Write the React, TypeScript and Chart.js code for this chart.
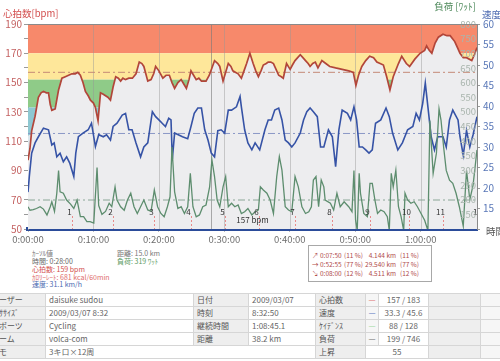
import React, { useEffect, useRef } from 'react';
import { Chart, registerables } from 'chart.js';

Chart.register(...registerables);

// ---------- data ----------
const X_MAX = 68.6; // minutes shown on the time axis
const timeStep = 10;

const hrT = [0, 0.3, 0.56, 1.08, 1.59, 2.0, 2.36, 2.8, 3.13, 3.4, 3.64, 4.15, 4.67, 5.18, 5.7, 6.2, 6.7, 7.23, 7.6, 8.0, 8.4, 8.77, 9.2, 9.54, 10.0, 10.3, 10.7, 11.08, 11.5, 11.85, 12.2, 12.6, 13.0, 13.4, 13.8, 14.15, 14.5, 14.9, 15.4, 15.95, 16.5, 17.0, 17.4, 17.7, 18.0, 18.3, 18.8, 19.2, 19.5, 20.0, 20.6, 21.1, 21.6, 22.0, 22.4, 22.9, 23.4, 23.8, 24.2, 24.6, 24.9, 25.3, 25.7, 26.1, 26.5, 27.2, 27.7, 28.1, 28.5, 29.0, 29.3, 29.8, 30.2, 30.6, 31.0, 31.3, 32.1, 32.6, 33.0, 33.4, 33.9, 34.4, 34.8, 35.2, 35.6, 35.95, 36.4, 36.7, 37.1, 37.5, 37.9, 38.3, 38.7, 39.0, 39.5, 40.05, 40.4, 40.8, 41.2, 41.6, 42.0, 42.4, 42.8, 43.1, 43.5, 43.9, 44.3, 44.9, 45.5, 46.1, 47.0, 48.0, 49.0, 49.7, 50.1, 50.5, 51.0, 51.6, 52.2, 52.8, 53.3, 53.8, 54.3, 54.8, 55.3, 55.8, 56.6, 57.1, 57.8, 58.3, 59.1, 59.9, 60.6, 60.9, 61.3, 61.7, 62.2, 62.7, 63.4, 64.0, 64.5, 65.2, 65.6, 66.0, 66.5, 67.0, 67.8, 68.2, 68.6];
const hrV = [97, 105, 117, 127, 140, 143, 144, 143, 143, 135, 131, 132, 145, 153, 154, 155, 156, 156, 157, 155, 150, 144, 141, 138, 136, 133, 124, 143, 142, 141, 140, 138, 147, 154, 153, 151, 153, 152, 153, 153, 156, 164, 163, 161, 156, 151, 152, 156, 161, 158, 153, 155, 155, 150, 146, 150, 152, 149, 146, 152, 158, 155, 152, 153, 151, 151, 155, 160, 165, 163, 161, 151, 157, 163, 161, 158, 156, 153, 158, 163, 170, 163, 158, 154, 158, 162, 163, 164, 164, 163, 159, 155, 154, 153, 163, 159, 162, 165, 167, 169, 167, 165, 163, 161, 163, 164, 160, 165, 163, 161, 160, 159, 158, 157, 148, 155, 161, 165, 168, 167, 164, 163, 162, 154, 145, 154, 163, 168, 163, 161, 166, 170, 172, 175, 172, 170, 177, 181, 183, 182, 182, 178, 174, 170, 167, 167, 165, 169, 174];

const spT = [0, 0.2, 0.56, 1.08, 1.59, 2.36, 3.13, 3.64, 4.0, 4.4, 4.9, 5.4, 5.9, 6.4, 7.0, 7.3, 7.7, 8.4, 9.2, 9.7, 10.3, 10.8, 11.5, 12.0, 12.6, 13.0, 13.6, 14.4, 14.9, 15.4, 15.9, 16.5, 17.2, 17.7, 18.3, 19.0, 19.5, 20.0, 20.5, 21.0, 21.5, 21.85, 22.05, 22.4, 23.6, 24.4, 24.9, 25.4, 25.95, 26.5, 27.0, 27.5, 28.0, 28.5, 29.0, 29.5, 30.05, 30.6, 31.1, 31.85, 32.4, 32.6, 33.1, 33.6, 34.2, 34.7, 35.4, 36.2, 36.7, 37.2, 37.7, 38.3, 38.8, 39.3, 39.8, 40.3, 40.8, 41.6, 42.1, 42.6, 43.1, 43.6, 44.2, 44.7, 45.2, 45.9, 46.5, 47.0, 47.5, 48.0, 48.8, 49.3, 49.8, 50.2, 50.6, 51.1, 51.6, 52.1, 52.6, 53.1, 53.9, 54.7, 55.2, 55.7, 56.5, 57.2, 58.0, 58.8, 59.3, 59.8, 60.3, 60.7, 61.1, 61.6, 62.1, 62.6, 63.4, 63.9, 64.4, 64.9, 65.7, 66.0, 66.5, 67.0, 67.5, 68.0, 68.6];
const spV = [19, 22.8, 28.5, 31, 32.5, 34.6, 34.2, 30.5, 31, 27.6, 28.5, 26.4, 27.6, 26, 22.8, 28.5, 32.5, 33.4, 34.2, 35.8, 30.1, 33, 32.5, 33, 31.7, 35, 35.8, 37.8, 38.2, 34.2, 34.2, 31, 27.6, 30, 31, 38.6, 37.4, 36.6, 35.8, 35, 37, 36.6, 27, 33.4, 32.5, 32, 35, 38.2, 39.5, 39.5, 34.2, 31.7, 28.5, 27.6, 34, 34.2, 33.4, 39, 39, 39.8, 42.3, 39.8, 34.2, 31, 29.3, 31, 29.3, 34.2, 36.6, 36.6, 39, 39.5, 36.6, 31.7, 31, 30, 31, 33.4, 36.6, 38.6, 39.5, 38.6, 37.4, 30, 30, 34.2, 32.5, 25.2, 34.2, 39, 38.2, 36.6, 39.8, 36.6, 30, 30, 29.3, 28.5, 29.3, 35.8, 36.6, 39.5, 37.4, 33.4, 29.3, 31, 34.2, 35, 38.2, 36.6, 40.6, 45.6, 39.8, 32.5, 29.3, 32.5, 32.5, 30, 36.6, 39, 36.6, 32.5, 28, 34, 30, 33, 37.4];

const pwT = [0, 0.3, 0.8, 1.3, 1.85, 2.36, 2.9, 3.4, 3.64, 4.05, 4.4, 4.67, 4.9, 5.4, 5.9, 6.5, 7.0, 7.5, 8.0, 8.5, 9.0, 9.5, 10.05, 10.55, 10.8, 11.3, 11.85, 12.4, 12.8, 13.3, 13.6, 14.15, 14.7, 15.2, 15.7, 16.2, 16.7, 17.2, 17.7, 18.3, 18.8, 19.3, 19.8, 20.3, 20.8, 21.3, 21.7, 22.0, 22.4, 22.9, 23.4, 23.9, 24.4, 24.8, 25.2, 25.7, 26.2, 26.7, 27.2, 27.75, 28.1, 28.5, 28.9, 29.3, 29.8, 30.2, 30.6, 31.1, 31.6, 32.1, 32.6, 33.1, 33.6, 34.2, 34.7, 35.2, 35.5, 35.95, 36.5, 37.0, 37.5, 38.0, 38.4, 38.8, 39.3, 39.8, 40.3, 40.8, 41.3, 41.85, 42.4, 42.9, 43.3, 43.6, 44.0, 44.4, 44.8, 45.2, 45.4, 46.2, 46.7, 47.2, 47.7, 48.3, 49.0, 49.5, 49.8, 50.05, 50.3, 50.6, 50.8, 51.3, 51.85, 52.25, 52.6, 53.0, 53.4, 53.9, 54.4, 54.9, 55.2, 55.5, 55.8, 56.2, 56.6, 57.0, 57.4, 57.6, 58.0, 58.5, 59.0, 59.5, 60.05, 60.6, 61.1, 61.4, 61.9, 62.4, 62.8, 63.1, 63.5, 63.9, 64.4, 64.9, 65.4, 65.9, 66.5, 67.0, 67.5, 68.0, 68.6];
const pwV = [176, 164, 166, 170, 176, 168, 148, 176, 193, 160, 222, 300, 227, 222, 199, 185, 170, 199, 142, 142, 125, 125, 120, 310, 180, 150, 160, 188, 176, 244, 199, 176, 164, 199, 222, 176, 153, 176, 199, 165, 160, 233, 176, 153, 142, 176, 210, 380, 227, 170, 176, 153, 176, 290, 176, 142, 148, 176, 182, 244, 336, 279, 199, 176, 244, 279, 176, 188, 176, 182, 153, 159, 170, 148, 159, 165, 244, 233, 222, 199, 153, 279, 347, 301, 176, 165, 159, 279, 244, 176, 153, 159, 176, 267, 279, 176, 267, 244, 199, 188, 165, 222, 176, 193, 176, 159, 300, 130, 95, 290, 222, 153, 142, 256, 256, 199, 153, 165, 159, 142, 95, 290, 244, 301, 176, 142, 95, 222, 199, 188, 193, 176, 153, 130, 95, 470, 290, 359, 510, 472, 380, 300, 267, 256, 222, 176, 110, 300, 200, 250, 370];

const lapT = [6.7, 13.0, 19.3, 24.9, 30.1, 35.3, 40.8, 46.4, 52.3, 58.2, 63.4, 69.1];
const lapLabels = ['1', '2', '3', '4', '5', '6', '7', '8', '9', '10', '11', '12'];

const zoneBounds = [190, 170, 152, 133, 114, 50];
const zoneColors = ['#f7896b', '#fee79a', '#8fcb88', '#8ec8d2', '#dde8ee'];

const avgHr = 157;
const avgSpeed = 33.3;
const avgPower = 199;
const cursorT = 28;
const powerTicks = [800, 750, 700, 650, 600, 550, 500, 450, 400, 350, 300, 250, 200, 150];

const FONT = "'Noto Sans CJK JP', 'Noto Sans', sans-serif";
const FILL_INDEX = 6;

const fmtTime = (m: number) => {
  const h = Math.floor(m / 60);
  const mm = Math.round(m % 60);
  return `${h}:${String(mm).padStart(2, '0')}:00`;
};

const pts = (t: number[], v: number[]) => t.map((x, i) => ({ x, y: v[i] }));

const overlayPlugin = {
  id: 'overlay',
  beforeDatasetsDraw(chart: any) {
    const { ctx, chartArea: a, scales } = chart;
    const y = scales.y;
    ctx.save();
    for (let i = 0; i < zoneColors.length; i++) {
      const top = y.getPixelForValue(zoneBounds[i]);
      const bot = y.getPixelForValue(zoneBounds[i + 1]);
      ctx.fillStyle = zoneColors[i];
      ctx.fillRect(a.left, top, a.right - a.left, bot - top);
    }
    ctx.restore();
  },
  afterDatasetDraw(chart: any, args: any) {
    if (args.index !== FILL_INDEX) return;
    const { ctx, chartArea: a, scales } = chart;
    const xs = scales.x;
    ctx.save();
    ctx.strokeStyle = 'rgba(150,150,150,0.45)';
    ctx.lineWidth = 1;
    xs.ticks.forEach((t: any) => {
      if (t.value <= 0) return;
      const px = Math.round(xs.getPixelForValue(t.value)) + 0.5;
      ctx.beginPath();
      ctx.moveTo(px, a.top);
      ctx.lineTo(px, a.bottom);
      ctx.stroke();
    });
    const cx = Math.round(xs.getPixelForValue(cursorT)) + 0.5;
    ctx.strokeStyle = 'rgba(120,120,120,0.6)';
    ctx.beginPath();
    ctx.moveTo(cx, a.top);
    ctx.lineTo(cx, a.bottom);
    ctx.stroke();
    ctx.restore();
  },
  afterDatasetsDraw(chart: any) {
    const { ctx, chartArea: a, scales } = chart;
    const xs = scales.x;
    const pw = scales.pw;
    ctx.save();
    ctx.beginPath();
    ctx.rect(a.left, a.top, a.right - a.left, a.bottom - a.top);
    ctx.clip();
    ctx.font = `8px ${FONT}`;
    ctx.textAlign = 'center';
    ctx.textBaseline = 'middle';
    lapT.forEach((t, i) => {
      const px = Math.round(xs.getPixelForValue(t)) + 0.5;
      ctx.strokeStyle = '#e88a8a';
      ctx.lineWidth = 1;
      ctx.setLineDash([2, 2]);
      ctx.beginPath();
      ctx.moveTo(px, a.bottom - 13);
      ctx.lineTo(px, a.bottom);
      ctx.stroke();
      ctx.setLineDash([]);
      ctx.fillStyle = '#333';
      ctx.fillText(lapLabels[i], px - 3, a.bottom - 17);
    });
    ctx.fillStyle = '#333';
    ctx.font = `8px ${FONT}`;
    ctx.fillText(`${avgHr} bpm`, (a.left + a.right) / 2, a.bottom - 9);
    ctx.restore();

    ctx.save();
    ctx.font = `9.5px ${FONT}`;
    ctx.fillStyle = '#a9b5ad';
    ctx.textAlign = 'right';
    ctx.textBaseline = 'middle';
    powerTicks.forEach((v) => {
      ctx.fillText(String(v), a.right - 1, pw.getPixelForValue(v));
    });
    ctx.strokeStyle = '#8a8a8a';
    ctx.lineWidth = 1;
    ctx.beginPath();
    ctx.moveTo(a.left, a.top + 0.5);
    ctx.lineTo(a.right, a.top + 0.5);
    ctx.stroke();
    ctx.restore();
  },
  afterDraw(chart: any) {
    const { ctx, chartArea: a } = chart;
    ctx.save();
    ctx.textBaseline = 'middle';
    ctx.font = `9.5px ${FONT}`;
    ctx.fillStyle = '#d24c4c';
    ctx.textAlign = 'left';
    ctx.fillText('心拍数[bpm]', 3, 13);
    ctx.fillStyle = '#4f8a5c';
    ctx.textAlign = 'right';
    ctx.fillText('負荷 [ﾜｯﾄ]', a.right - 1, 6);
    ctx.fillStyle = '#4a68b0';
    ctx.textAlign = 'left';
    ctx.fillText('速度', a.right + 5, 14);
    ctx.fillStyle = '#555';
    ctx.fillText('時間', a.right + 9, a.bottom + 2);
    ctx.restore();
  },
};

function ChartCanvas() {
  const ref = useRef<HTMLCanvasElement | null>(null);
  useEffect(() => {
    if (!ref.current) return;
    Chart.defaults.font.family = FONT;
    const chart = new Chart(ref.current, {
      type: 'line',
      data: {
        datasets: [
          { label: 'power', data: pts(pwT, pwV), yAxisID: 'pw', borderColor: '#5d8d6e', borderWidth: 1.3, pointRadius: 0, tension: 0, fill: false },
          { label: 'speed', data: pts(spT, spV), yAxisID: 'sp', borderColor: '#3653a6', borderWidth: 1.6, pointRadius: 0, tension: 0, fill: false },
          { label: 'hr', data: pts(hrT, hrV), yAxisID: 'y', borderColor: '#b2463a', borderWidth: 1.7, pointRadius: 0, tension: 0, fill: false },
          { label: 'avgHr', data: [{ x: 0, y: avgHr }, { x: X_MAX, y: avgHr }], yAxisID: 'y', borderColor: '#c48a78', borderWidth: 1, borderDash: [7, 3, 2, 3], pointRadius: 0, fill: false },
          { label: 'avgSp', data: [{ x: 0, y: avgSpeed }, { x: X_MAX, y: avgSpeed }], yAxisID: 'sp', borderColor: '#8a98c6', borderWidth: 1, borderDash: [7, 3, 2, 3], pointRadius: 0, fill: false },
          { label: 'avgPw', data: [{ x: 0, y: avgPower }, { x: X_MAX, y: avgPower }], yAxisID: 'pw', borderColor: '#8aa696', borderWidth: 1, borderDash: [7, 3, 2, 3], pointRadius: 0, fill: false },
          { label: 'hrFill', data: pts(hrT, hrV), yAxisID: 'y', borderWidth: 0, borderColor: 'rgba(0,0,0,0)', backgroundColor: '#ededef', pointRadius: 0, tension: 0, fill: 'start' },
        ],
      },
      options: {
        responsive: false,
        devicePixelRatio: 1,
        animation: false,
        events: [],
        layout: { padding: { top: 24, left: 0, right: 0, bottom: 0 } },
        plugins: { legend: { display: false }, tooltip: { enabled: false }, title: { display: false } },
        scales: {
          x: {
            type: 'linear',
            min: 0,
            max: X_MAX,
            afterFit: (s: any) => { s.height = 16; },
            ticks: {
              stepSize: timeStep,
              includeBounds: false,
              autoSkip: false,
              maxRotation: 0,
              padding: 2,
              color: '#6e6e6e',
              font: { size: 9.5, family: FONT },
              callback: (v: any) => fmtTime(Number(v)),
            },
            grid: { drawOnChartArea: false, tickLength: 3, color: '#bbb' },
            border: { display: true, color: '#2b4c9a', width: 4 },
          },
          y: {
            position: 'left',
            min: 50,
            max: 190,
            afterFit: (s: any) => { s.width = 28; },
            ticks: {
              stepSize: 10,
              autoSkip: false,
              padding: 2,
              color: '#c46262',
              font: { size: 10, family: FONT },
              callback: (v: any) => (Number(v) % 20 === 10 ? String(v) : ''),
            },
            grid: { drawOnChartArea: false, tickLength: 4, color: '#9a9a9a' },
            border: { display: true, color: '#8a8a8a' },
          },
          pw: {
            position: 'right',
            display: false,
            min: 100,
            max: 800,
          },
          sp: {
            position: 'right',
            min: 10,
            max: 60,
            afterFit: (s: any) => { s.width = 23; },
            ticks: {
              stepSize: 5,
              autoSkip: false,
              padding: 3,
              color: '#5a78b8',
              font: { size: 10, family: FONT },
              callback: (v: any) => (Number(v) >= 15 ? String(v) : ''),
            },
            grid: { drawOnChartArea: false, tickLength: 3, color: '#9a9a9a' },
            border: { display: true, color: '#8a8a8a' },
          },
        },
      } as any,
      plugins: [overlayPlugin],
    } as any);
    return () => chart.destroy();
  }, []);
  return <canvas ref={ref} width={500} height={245} style={{ position: 'absolute', left: 0, top: 0, width: 500, height: 245 }} />;
}

const lapRows = [
  ['↗', '0:07:50', '(11 %)', '4.144 km', '(11 %)'],
  ['→', '0:52:55', '(77 %)', '29.540 km', '(77 %)'],
  ['↘', '0:08:00', '(12 %)', '4.511 km', '(12 %)'],
];

const infoLines = [
  { left: 32, top: 249, text: 'ｶｰｿﾙ値', color: '#777' },
  { left: 32, top: 257, text: '時間: 0:28:00', color: '#666' },
  { left: 32, top: 265, text: '心拍数: 159 bpm', color: '#d24c4c' },
  { left: 32, top: 273, text: 'ｶﾛﾘｰﾚｰﾄ: 681 kcal/60min', color: '#e06a6a' },
  { left: 32, top: 280, text: '速度: 31.1 km/h', color: '#4a68b0' },
  { left: 117, top: 249, text: '距離: 15.0 km', color: '#777' },
  { left: 117, top: 257, text: '負荷: 319 ﾜｯﾄ', color: '#5a9a62' },
];

const tableRows = [
  ['ユーザー', 'daisuke sudou', '日付', '2009/03/07', '心拍数', '#e06a6a', '157 / 183'],
  ['ｴｸｻｻｲｽﾞ', '2009/03/07 8:32', '時刻', '8:32:50', '速度', '#5470c0', '33.3 / 45.6'],
  ['スポーツ', 'Cycling', '継続時間', '1:08:45.1', 'ｹｲﾃﾞﾝｽ', '#9ad69a', '88 / 128'],
  ['チーム', 'volca-com', '距離', '38.2 km', '負荷', '#666', '199 / 746'],
];
const memoRow = ['メモ', '3キロ×12周', '上昇', '55'];

const colWidths = [58, 148, 55, 67, 50, 13, 50, 52, 40];

export default function App() {
  const td: React.CSSProperties = {
    border: '1px solid #d6d6d6',
    padding: '0 3px',
    whiteSpace: 'nowrap',
    overflow: 'hidden',
    lineHeight: '12px',
    height: 12,
    color: '#666',
  };
  const lab: React.CSSProperties = { ...td, background: '#eeeeee', color: '#555' };
  return (
    <div style={{ position: 'absolute', left: 0, top: 0, width: 500, height: 361, overflow: 'hidden', background: '#fff', fontFamily: FONT }}>
      <ChartCanvas />
      {infoLines.map((l, i) => (
        <div key={i} style={{ position: 'absolute', left: l.left, top: l.top, fontSize: 7, lineHeight: '8px', color: l.color, whiteSpace: 'nowrap' }}>{l.text}</div>
      ))}
      <div style={{ position: 'absolute', left: 308, top: 245, width: 122, height: 35, border: '1px solid #a8a8a8', boxSizing: 'content-box' }}>
        {lapRows.map((r, i) => (
          <div key={i} style={{ position: 'absolute', top: 5 + i * 9, left: 0, height: 9, fontSize: 6.5, lineHeight: '9px', color: '#b04a4a', whiteSpace: 'nowrap', width: 122 }}>
            <span style={{ position: 'absolute', left: 3 }}>{r[0]} {r[1]}</span>
            <span style={{ position: 'absolute', left: 35 }}>{r[2]}</span>
            <span style={{ position: 'absolute', right: 35, textAlign: 'right' }}>{r[3]}</span>
            <span style={{ position: 'absolute', left: 91 }}>{r[4]}</span>
          </div>
        ))}
      </div>
      <table style={{ position: 'absolute', left: -13, top: 293, borderCollapse: 'collapse', tableLayout: 'fixed', fontSize: 8, width: colWidths.reduce((s, w) => s + w, 0), borderTop: '1px solid #c4c4c4' }}>
        <colgroup>
          {colWidths.map((w, i) => <col key={i} style={{ width: w }} />)}
        </colgroup>
        <tbody>
          {tableRows.map((r, i) => (
            <tr key={i}>
              <td style={lab}>{r[0]}</td>
              <td style={td}>{r[1]}</td>
              <td style={lab}>{r[2]}</td>
              <td style={td}>{r[3]}</td>
              <td style={lab}>{r[4]}</td>
              <td style={{ ...td, padding: 0, textAlign: 'center', color: r[5], background: '#f6f6f6' }}>—</td>
              <td style={{ ...td, textAlign: 'center' }}>{r[6]}</td>
              <td style={{ ...td, background: '#eeeeee' }}></td>
              <td style={{ ...td, background: '#f6f6f6' }}></td>
            </tr>
          ))}
          <tr>
            <td style={lab}>{memoRow[0]}</td>
            <td style={td} colSpan={3}>{memoRow[1]}</td>
            <td style={lab}>{memoRow[2]}</td>
            <td style={{ ...td, textAlign: 'center' }} colSpan={2}>{memoRow[3]}</td>
            <td style={{ ...td, background: '#eeeeee' }}></td>
            <td style={{ ...td, background: '#f6f6f6' }}></td>
          </tr>
        </tbody>
      </table>
    </div>
  );
}
